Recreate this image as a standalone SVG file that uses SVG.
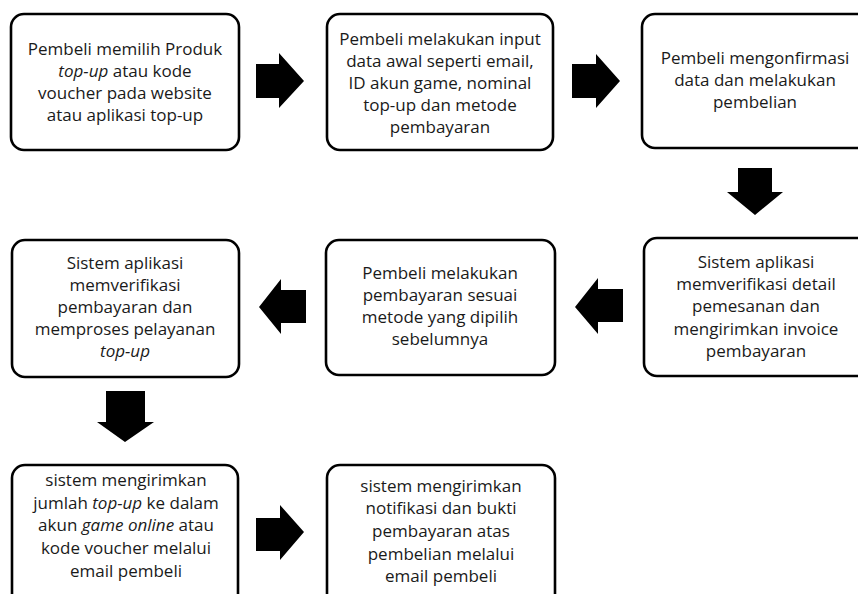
<svg xmlns="http://www.w3.org/2000/svg" width="858" height="594" viewBox="0 0 858 594">
<style>
.box{fill:#fff;stroke:#000;stroke-width:2.6}
.t{font-family:"Open Sans","Liberation Sans",sans-serif;font-size:17px;fill:#1a1a1a;text-anchor:middle}
.i{font-style:italic}
.arr{fill:#000}
</style>
<rect width="858" height="594" fill="#fff"/>
<g id="connectors">
<polygon class="arr" points="256,64 279,64 279,53 304,81 279,108 279,98 256,98"/>
<polygon class="arr" points="572,64 596,64 596,54 620,81 596,108 596,98 572,98"/>
<polygon class="arr" points="738,168 772,168 772,192 783,192 755,215 727,192 738,192"/>
<polygon class="arr" points="623,289 623,322 598,322 598,334 575,307 598,278 598,289"/>
<polygon class="arr" points="306,290 306,323 281,323 281,334 259,307 281,279 281,290"/>
<polygon class="arr" points="106,391 145,391 145,422 154,422 125,442 97,422 106,422"/>
<polygon class="arr" points="256,518 280,518 280,505 304,532 280,560 280,551 256,551"/>
</g>
<g id="n1">
<rect class="box" x="11" y="14" width="228" height="136" rx="13"/>
<text class="t" x="125" y="55">Pembeli memilih Produk</text>
<text class="t" x="125" y="77"><tspan class="i">top-up</tspan> atau kode</text>
<text class="t" x="125" y="99">voucher pada website</text>
<text class="t" x="125" y="121">atau aplikasi top-up</text>
</g>
<g id="n2">
<rect class="box" x="327" y="14" width="226" height="136" rx="13"/>
<text class="t" x="440" y="45">Pembeli melakukan input</text>
<text class="t" x="440" y="67">data awal seperti email,</text>
<text class="t" x="440" y="89">ID akun game, nominal</text>
<text class="t" x="440" y="111">top-up dan metode</text>
<text class="t" x="440" y="133">pembayaran</text>
</g>
<g id="n3">
<rect class="box" x="642" y="14" width="240" height="134" rx="13"/>
<text class="t" x="755" y="64">Pembeli mengonfirmasi</text>
<text class="t" x="755" y="86">data dan melakukan</text>
<text class="t" x="755" y="108">pembelian</text>
</g>
<g id="n4">
<rect class="box" x="644" y="238" width="240" height="138" rx="13"/>
<text class="t" x="756" y="268">Sistem aplikasi</text>
<text class="t" x="756" y="290">memverifikasi detail</text>
<text class="t" x="756" y="312">pemesanan dan</text>
<text class="t" x="756" y="335">mengirimkan invoice</text>
<text class="t" x="756" y="357">pembayaran</text>
</g>
<g id="n5">
<rect class="box" x="326" y="240" width="229" height="135" rx="13"/>
<text class="t" x="440" y="279">Pembeli melakukan</text>
<text class="t" x="440" y="301">pembayaran sesuai</text>
<text class="t" x="440" y="323">metode yang dipilih</text>
<text class="t" x="440" y="345">sebelumnya</text>
</g>
<g id="n6">
<rect class="box" x="12" y="240" width="227" height="137" rx="13"/>
<text class="t" x="125" y="269">Sistem aplikasi</text>
<text class="t" x="125" y="291">memverifikasi</text>
<text class="t" x="125" y="313">pembayaran dan</text>
<text class="t" x="125" y="335">memproses pelayanan</text>
<text class="t i" x="125" y="357">top-up</text>
</g>
<g id="n7">
<rect class="box" x="12" y="465" width="226" height="150" rx="13"/>
<text class="t" x="126" y="486">sistem mengirimkan</text>
<text class="t" x="126" y="509">jumlah <tspan class="i">top-up</tspan> ke dalam</text>
<text class="t" x="126" y="531">akun <tspan class="i">game online</tspan> atau</text>
<text class="t" x="126" y="554">kode voucher melalui</text>
<text class="t" x="126" y="577">email pembeli</text>
</g>
<g id="n8">
<rect class="box" x="327" y="465" width="228" height="150" rx="13"/>
<text class="t" x="441" y="492">sistem mengirimkan</text>
<text class="t" x="441" y="514">notifikasi dan bukti</text>
<text class="t" x="441" y="537">pembayaran atas</text>
<text class="t" x="441" y="560">pembelian melalui</text>
<text class="t" x="441" y="582">email pembeli</text>
</g>
</svg>
